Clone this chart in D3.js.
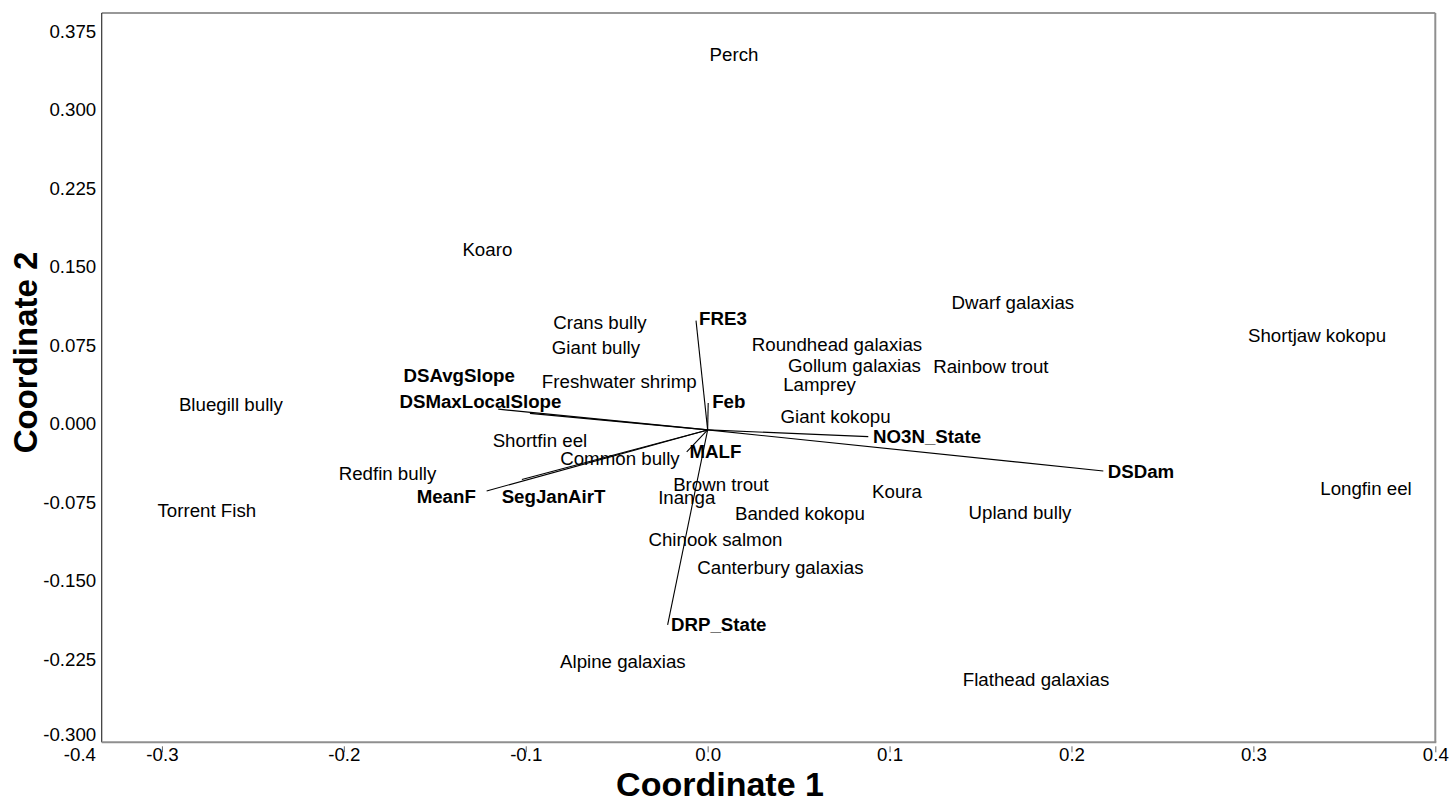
<!DOCTYPE html>
<html>
<head>
<meta charset="utf-8">
<script src="https://cdn.jsdelivr.net/npm/d3@7"></script>
<style>
  html, body { margin: 0; padding: 0; background: #fff; }
  svg { display: block; }
  text { font-family: "Liberation Sans", Arial, Helvetica, sans-serif; fill: #000; }
</style>
</head>
<body>
<svg id="chart" width="1449" height="799"></svg>
<script>
// ---------- data ----------
const speciesNames = ["Perch", "Koaro", "Dwarf galaxias", "Shortjaw kokopu", "Crans bully", "Giant bully",
  "Roundhead galaxias", "Gollum galaxias", "Rainbow trout", "Lamprey", "Freshwater shrimp", "Bluegill bully",
  "Giant kokopu", "Shortfin eel", "Common bully", "Redfin bully", "Brown trout", "Inanga", "Koura",
  "Banded kokopu", "Upland bully", "Longfin eel", "Torrent Fish", "Chinook salmon", "Canterbury galaxias",
  "Alpine galaxias", "Flathead galaxias"];
const speciesX = [0.0145, -0.1211, 0.1678, 0.3350, -0.0592, -0.0614,
  0.0711, 0.0807, 0.1557, 0.0615, -0.0486, -0.2621,
  0.0703, -0.0922, -0.0482, -0.1760, 0.0073, -0.0115, 0.1041,
  0.0507, 0.1717, 0.3619, -0.2753, 0.0043, 0.0400,
  -0.0466, 0.1805];
const speciesY = [0.3591, 0.1729, 0.1223, 0.0907, 0.1032, 0.0793,
  0.0821, 0.0621, 0.0611, 0.0439, 0.0461, 0.0248,
  0.0134, -0.0096, -0.0270, -0.0417, -0.0522, -0.0640, -0.0583,
  -0.0793, -0.0783, -0.0554, -0.0764, -0.1041, -0.1309,
  -0.2206, -0.2378];

const vectorNames = ["FRE3", "Feb", "DSAvgSlope", "DSMaxLocalSlope", "NO3N_State", "MALF",
  "DSDam", "MeanF", "SegJanAirT", "DRP_State"];
const vectorX = [-0.0064, 0.0003, -0.0977, -0.1151, 0.0883, -0.0115, 0.2175, -0.1215, -0.1021, -0.0220];
const vectorY = [0.1044, 0.0258, 0.0158, 0.0198, -0.0064, -0.0210, -0.0392, -0.0583, -0.0473, -0.1862];
const vectorLabelX = [0.0084, 0.0116, -0.1366, -0.1249, 0.1206, 0.0043, 0.2382, -0.1437, -0.0847, 0.0061];
const vectorLabelY = [0.1067, 0.0270, 0.0525, 0.0272, -0.0057, -0.0207, -0.0392, -0.0637, -0.0637, -0.1858];

const xTicks = [-0.3, -0.2, -0.1, 0.0, 0.1, 0.2, 0.3, 0.4];
const yTicks = [0.375, 0.300, 0.225, 0.150, 0.075, 0.000, -0.075, -0.150, -0.225, -0.300];
const xDomain = [-0.3331, 0.4];
const yDomain = [-0.2983, 0.3981];
const xMinLabel = "-0.4";
const xTitle = "Coordinate 1";
const yTitle = "Coordinate 2";

// ---------- layout ----------
const L = 101.7, R = 1435.3, T = 13, B = 742.3;
const svg = d3.select("#chart");
const x = d3.scaleLinear().domain(xDomain).range([L, R]);
const y = d3.scaleLinear().domain(yDomain).range([B, T]);

// frame
svg.append("line").attr("x1", L).attr("x2", R).attr("y1", T).attr("y2", T)
  .attr("stroke", "#333").attr("stroke-width", 1.2);
svg.append("line").attr("x1", L).attr("x2", L).attr("y1", T).attr("y2", B)
  .attr("stroke", "#333").attr("stroke-width", 1.2);
svg.append("line").attr("x1", L).attr("x2", R + 1).attr("y1", B).attr("y2", B)
  .attr("stroke", "#8f8f8f").attr("stroke-width", 2);
svg.append("line").attr("x1", R).attr("x2", R).attr("y1", T).attr("y2", B)
  .attr("stroke", "#8f8f8f").attr("stroke-width", 2);

// x axis
const gx = svg.append("g").attr("transform", `translate(0,${B + 4})`)
  .call(d3.axisBottom(x).tickValues(xTicks).tickSize(6).tickFormat(d => d.toFixed(1)));
gx.select(".domain").remove();
gx.selectAll(".tick line").attr("stroke", "#666").attr("stroke-width", 1);
gx.selectAll(".tick text").attr("y", 14.5).attr("dy", "0")
  .style("font-size", "18.7px").attr("fill", "#000");
svg.append("text").attr("x", 96).attr("y", B + 18.8).attr("text-anchor", "end")
  .style("font-size", "18.7px").text(xMinLabel);

// y axis
const gy = svg.append("g").attr("transform", `translate(${L},0)`)
  .call(d3.axisLeft(y).tickValues(yTicks).tickSize(0).tickPadding(5.5).tickFormat(d => d.toFixed(3)));
gy.select(".domain").remove();
gy.selectAll(".tick text").attr("dy", "0")
  .attr("y", d => Math.min(y(d), B - 2) - y(d))
  .style("font-size", "18.7px").attr("fill", "#000");

// axis titles
svg.append("text").attr("x", 720).attr("y", 796).attr("text-anchor", "middle")
  .style("font-size", "34px").style("font-weight", "bold").text(xTitle);
svg.append("text").attr("transform", "translate(36.5,352.5) rotate(-90)").attr("text-anchor", "middle")
  .style("font-size", "33px").style("font-weight", "bold").text(yTitle);

// vectors
const vectors = vectorNames.map((n, i) => ({ name: n, x: vectorX[i], y: vectorY[i], lx: vectorLabelX[i], ly: vectorLabelY[i] }));
svg.append("g").selectAll("line").data(vectors).join("line")
  .attr("x1", x(0)).attr("y1", y(0))
  .attr("x2", d => x(d.x)).attr("y2", d => y(d.y))
  .attr("stroke", "#000").attr("stroke-width", 1.1);

// species labels
const species = speciesNames.map((n, i) => ({ name: n, x: speciesX[i], y: speciesY[i] }));
svg.append("g").selectAll("text").data(species).join("text")
  .attr("x", d => x(d.x)).attr("y", d => y(d.y)).attr("dy", "0.36em")
  .attr("text-anchor", "middle").style("font-size", "18.7px")
  .text(d => d.name);

// vector labels
svg.append("g").selectAll("text").data(vectors).join("text")
  .attr("x", d => x(d.lx)).attr("y", d => y(d.ly)).attr("dy", "0.36em")
  .attr("text-anchor", "middle").style("font-size", "18.7px").style("font-weight", "bold")
  .text(d => d.name);
</script>
</body>
</html>
